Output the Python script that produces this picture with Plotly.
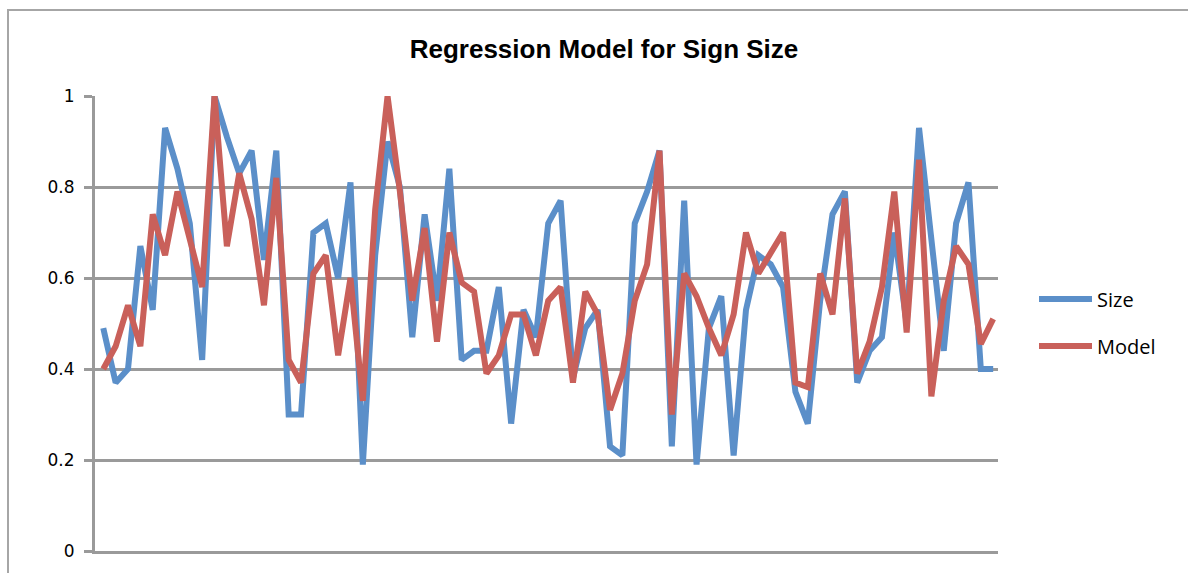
import plotly.graph_objects as go

categories = list(range(1, 74))

size_values = [
    0.49, 0.37, 0.40, 0.67, 0.53, 0.93, 0.84, 0.72, 0.42, 1.00,
    0.91, 0.83, 0.88, 0.64, 0.88, 0.30, 0.30, 0.70, 0.72, 0.60,
    0.81, 0.19, 0.65, 0.90, 0.80, 0.47, 0.74, 0.55, 0.84, 0.42,
    0.44, 0.44, 0.58, 0.28, 0.53, 0.47, 0.72, 0.77, 0.38, 0.49,
    0.53, 0.23, 0.21, 0.72, 0.79, 0.88, 0.23, 0.77, 0.19, 0.49,
    0.56, 0.21, 0.53, 0.65, 0.63, 0.58, 0.35, 0.28, 0.55, 0.74,
    0.79, 0.37, 0.44, 0.47, 0.70, 0.50, 0.93, 0.68, 0.44, 0.72,
    0.81, 0.40, 0.40,
]

model_values = [
    0.40, 0.45, 0.54, 0.45, 0.74, 0.65, 0.79, 0.68, 0.58, 1.00,
    0.67, 0.83, 0.73, 0.54, 0.82, 0.42, 0.37, 0.61, 0.65, 0.43,
    0.60, 0.33, 0.75, 1.00, 0.79, 0.55, 0.71, 0.46, 0.70, 0.59,
    0.57, 0.39, 0.43, 0.52, 0.52, 0.43, 0.55, 0.58, 0.37, 0.57,
    0.52, 0.31, 0.39, 0.55, 0.63, 0.88, 0.30, 0.61, 0.56, 0.49,
    0.43, 0.52, 0.70, 0.61, 0.655, 0.70, 0.37, 0.36, 0.61, 0.52,
    0.775, 0.39, 0.46, 0.58, 0.79, 0.48, 0.86, 0.34, 0.55, 0.67,
    0.63, 0.455, 0.51,
]

y_tick_values = [0, 0.2, 0.4, 0.6, 0.8, 1]
y_tick_labels = ["0", "0.2", "0.4", "0.6", "0.8", "1"]

series_names = ["Size", "Model"]
series_colors = ["#5B8FC9", "#C9605A"]
title_text = "Regression Model for Sign Size"

GRID = "#9A9A9A"

fig = go.Figure()
for name, vals, col in zip(series_names, [size_values, model_values], series_colors):
    fig.add_trace(go.Scatter(
        x=categories, y=vals, mode="lines", name=name,
        line=dict(color=col, width=6), showlegend=False,
    ))

W, H = 1188, 573
L, R, T, B = 95, 190, 96, 22
pw, ph = W - L - R, H - T - B

def px_x(p):
    return (p - L) / pw

def px_y(p):
    return (H - B - p) / ph

shapes = [
    dict(type="rect", xref="paper", yref="paper",
         x0=px_x(8), x1=px_x(1210), y0=px_y(10), y1=px_y(600),
         line=dict(color="#A6A6A6", width=2), fillcolor="rgba(0,0,0,0)", layer="below"),
]
annotations = []
legend_y = [299, 346]
for name, col, ly in zip(series_names, series_colors, legend_y):
    shapes.append(dict(type="line", xref="paper", yref="paper",
                       x0=px_x(1039), x1=px_x(1092), y0=px_y(ly), y1=px_y(ly),
                       line=dict(color=col, width=6)))
    annotations.append(dict(xref="paper", yref="paper", x=px_x(1095), y=px_y(ly),
                            xanchor="left", yanchor="middle", text=name, showarrow=False,
                            font=dict(family="Open Sans", size=20, color="#000")))

fig.update_layout(
    width=W, height=H,
    margin=dict(l=L, r=R, t=T, b=B),
    paper_bgcolor="white", plot_bgcolor="white",
    title=dict(text="<b>" + title_text + "</b>", x=604 / W, xref="container", xanchor="center",
               y=1 - 49 / H, yref="container", yanchor="middle",
               font=dict(family="Liberation Sans", size=26, color="#000")),
    xaxis=dict(range=[0.33, 73.39], showgrid=False, zeroline=False, showticklabels=False,
               ticks="", showline=True, linecolor=GRID, linewidth=3, fixedrange=True),
    yaxis=dict(range=[0, 1], tickvals=y_tick_values, ticktext=y_tick_labels,
               showgrid=True, gridcolor=GRID, gridwidth=3, zeroline=False,
               showline=True, linecolor=GRID, linewidth=3,
               ticks="outside", ticklen=8, tickwidth=3, tickcolor=GRID,
               ticklabelstandoff=6,
               tickfont=dict(family="DejaVu Sans", size=17, color="#000")),
    shapes=shapes, annotations=annotations,
)

fig.write_html("out.html")
